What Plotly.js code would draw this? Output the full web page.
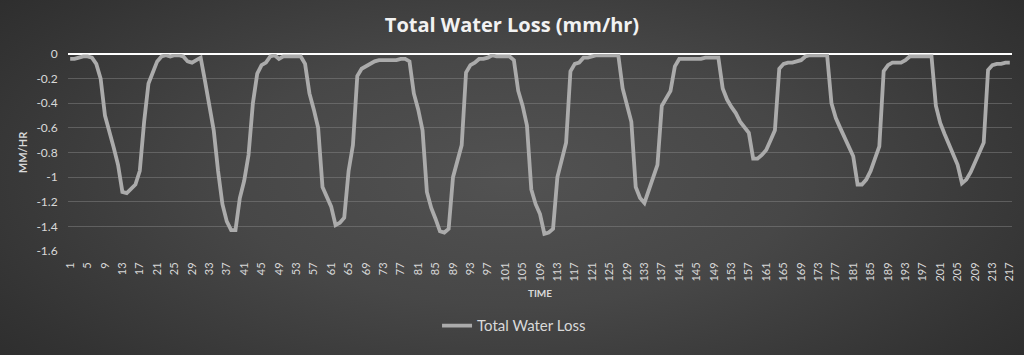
<!DOCTYPE html>
<html>
<head>
<meta charset="utf-8">
<script src="https://cdn.plot.ly/plotly-3.0.1.min.js"></script>
<style>
html,body{margin:0;padding:0;}
body{width:1024px;height:355px;overflow:hidden;
background: radial-gradient(ellipse 70% 90% at 50% 50%, #525252 0%, #474747 40%, #333333 80%, #2a2a2a 100%);}
#chart{width:1024px;height:355px;}
</style>
</head>
<body>
<div id="chart"></div>
<script>
// Series values (mm/hr), time steps 1..217
const waterLoss1 = [-0.04,-0.04,-0.03,-0.02,-0.02,-0.03,-0.08,-0.20,-0.50,-0.62,
  -0.76,-0.90,-1.12,-1.13,-1.10,-1.06,-0.95,-0.55,-0.24,-0.14,
  -0.06,-0.02,-0.01,-0.02,-0.01,-0.01,-0.02,-0.06,-0.07,-0.05,
  -0.03,-0.22,-0.42,-0.62,-0.95,-1.22,-1.36,-1.43,-1.43,-1.17,
  -1.03,-0.82,-0.40,-0.16,-0.09,-0.07,-0.02,-0.01,-0.04,-0.02,
  -0.02,-0.02,-0.02,-0.02];
const waterLoss2 = [-0.08,-0.32,-0.45,-0.60,-1.08,-1.16,-1.24,-1.39,-1.37,-1.33,
  -0.95,-0.74,-0.18,-0.12,-0.10,-0.08,-0.06,-0.05,-0.05,-0.05,
  -0.05,-0.05,-0.04,-0.04,-0.06,-0.32,-0.45,-0.62,-1.12,-1.25,
  -1.34,-1.44,-1.45,-1.42,-1.00,-0.88,-0.74,-0.15,-0.09,-0.07,
  -0.04,-0.04,-0.03,-0.01,-0.02,-0.02,-0.02,-0.02];
const waterLoss3 = [-0.05,-0.30,-0.42,-0.58,-1.10,-1.22,-1.30,-1.46,-1.45,-1.42,
  -1.00,-0.85,-0.72,-0.14,-0.08,-0.07,-0.03,-0.03,-0.02,-0.01,
  -0.01,-0.01,-0.01,-0.01,-0.01,-0.28,-0.42,-0.55,-1.08,-1.17,
  -1.21,-1.10,-1.00,-0.90,-0.42,-0.36,-0.30,-0.10,-0.04,-0.04,
  -0.04,-0.04,-0.04,-0.04,-0.03,-0.03,-0.03,-0.03];
const waterLoss4 = [-0.28,-0.37,-0.43,-0.48,-0.55,-0.60,-0.64,-0.85,-0.85,-0.82,
  -0.78,-0.70,-0.62,-0.12,-0.08,-0.07,-0.07,-0.06,-0.05,-0.02,
  -0.01,-0.01,-0.01,-0.01,-0.01,-0.40,-0.52,-0.60,-0.68,-0.76,
  -0.83,-1.06,-1.06,-1.02,-0.95,-0.85,-0.75,-0.14,-0.09,-0.07,
  -0.07,-0.07,-0.05,-0.02,-0.02,-0.02,-0.02,-0.02,-0.02,-0.42,
  -0.56,-0.65,-0.74,-0.82,-0.90,-1.05,-1.02,-0.96,-0.88,-0.80,
  -0.72,-0.13,-0.09,-0.08,-0.08,-0.07,-0.07];
const waterLoss = waterLoss1.concat(waterLoss2, waterLoss3, waterLoss4);

// Category labels 1..N
const timeLabels = waterLoss.map((v, i) => String(i + 1));

// Y tick values / labels
const yTickVals = [0, -0.2, -0.4, -0.6, -0.8, -1, -1.2, -1.4, -1.6];
const yTickText = ["0", "-0.2", "-0.4", "-0.6", "-0.8", "-1", "-1.2", "-1.4", "-1.6"];

const seriesName = "Total Water Loss";
const chartTitle = "Total Water Loss (mm/hr)";

const trace = {
  x: timeLabels,
  y: waterLoss,
  type: "scatter",
  mode: "lines",
  name: seriesName,
  line: {color: "#ababab", width: 3.8},
  cliponaxis: false
};

const layout = {
  width: 1024, height: 355,
  paper_bgcolor: "rgba(0,0,0,0)",
  plot_bgcolor: "rgba(0,0,0,0)",
  margin: {l: 68, r: 12, t: 54, b: 101},
  font: {family: "Lato, 'Open Sans', sans-serif", color: "#d9d9d9"},
  title: {
    text: chartTitle,
    font: {family: "'Open Sans', sans-serif", size: 20, color: "#f2f2f2", weight: "bold"},
    x: 0.5, xanchor: "center", y: 0.93, yanchor: "middle", yref: "container"
  },
  showlegend: true,
  legend: {
    orientation: "h", x: 0.4725, xanchor: "center", y: -0.38, yanchor: "middle",
    font: {size: 15, color: "#d9d9d9"}, bgcolor: "rgba(0,0,0,0)", itemwidth: 30
  },
  xaxis: {
    type: "category",
    range: [-0.5, timeLabels.length - 0.5],
    dtick: 4,
    tickangle: -90,
    tickfont: {size: 11, color: "#d9d9d9"},
    showgrid: false, zeroline: false, showline: false,
    ticks: "outside", ticklen: 6, tickcolor: "rgba(0,0,0,0)",
    title: {text: "TIME", font: {size: 10, color: "#d9d9d9", weight: "bold"}, standoff: 9}
  },
  yaxis: {
    range: [-1.6, 0],
    tickvals: yTickVals,
    ticktext: yTickText,
    tickfont: {size: 12, color: "#d9d9d9"},
    showgrid: true, gridcolor: "rgba(140,140,140,0.45)", gridwidth: 1,
    zeroline: true, zerolinecolor: "#ffffff", zerolinewidth: 2,
    showline: false, ticks: "outside", ticklen: 7, tickcolor: "rgba(0,0,0,0)",
    title: {text: "MM/HR", font: {size: 11, color: "#d9d9d9", weight: "bold"}, standoff: 6}
  }
};

Plotly.newPlot("chart", [trace], layout, {displayModeBar: false, staticPlot: true});
</script>
</body>
</html>
